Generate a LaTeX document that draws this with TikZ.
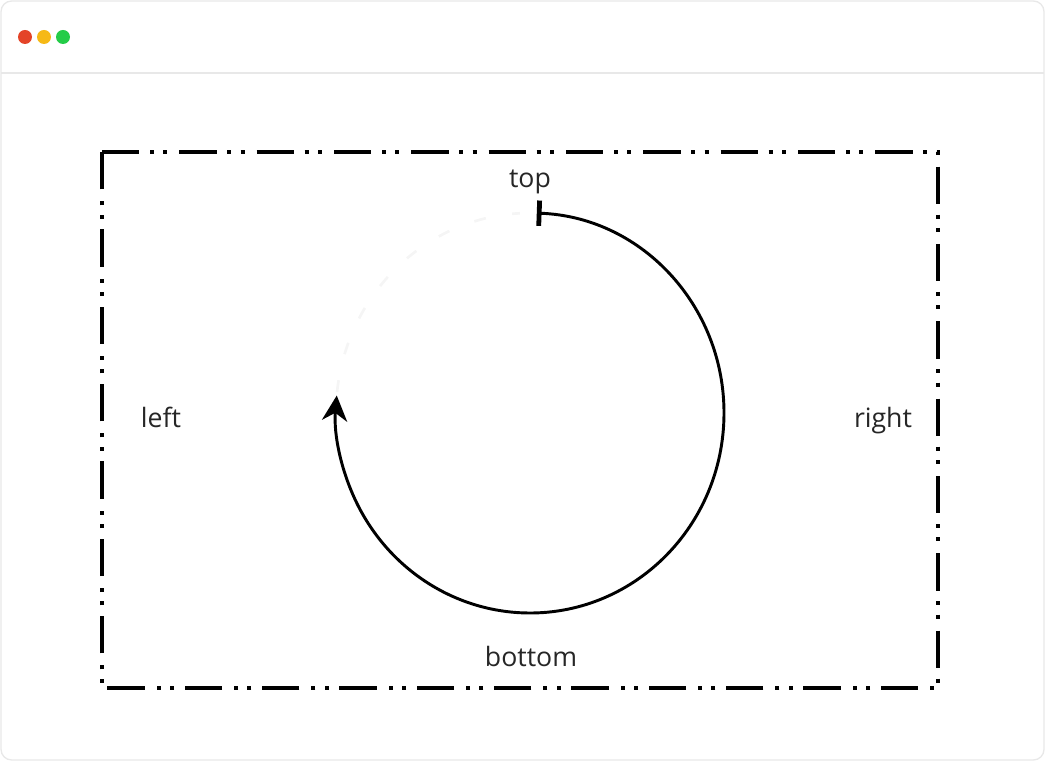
\documentclass[tikz,border=0pt]{standalone}
\usepackage{fontspec}
\setmainfont{Open Sans}
\usetikzlibrary{arrows.meta}
\definecolor{winline}{RGB}{232,232,232}
\definecolor{dotred}{RGB}{228,68,40}
\definecolor{dotyellow}{RGB}{246,185,22}
\definecolor{dotgreen}{RGB}{36,204,72}
\tikzset{
  lbl/.style={anchor=base, font=\fontsize{20}{24}\selectfont, text=black!85},
  dashdotdot/.style={line width=3pt, dash pattern=on 28pt off 8pt on 3pt off 7pt on 3pt off 9pt},
  turn/.style={line width=2.2pt, {Bar[width=19pt,line width=3.6pt]}-{Stealth[length=19pt,width=19pt,inset=6pt]}}
}
\newcommand\winlight[2]{\fill[#2] (#1,724) circle (7);}

\begin{document}
\begin{tikzpicture}[x=0.75pt,y=0.75pt]
\useasboundingbox (0,0) rectangle (1045,761);
\draw[winline, line width=1pt, rounded corners=8pt] (1,1) rectangle (1044,760);
\draw[winline, line width=1pt] (1,688) -- (1044,688);
\winlight{25}{dotred}
\winlight{44}{dotyellow}
\winlight{63}{dotgreen}
\draw[dashdotdot] (102,609) -- (938,609) -- (938,73) -- (102,73) -- cycle;
\node[lbl] (top) at (530,573) {top};
\node[lbl] (left) at (161,334) {left};
\node[lbl] (right) at (883,334) {right};
\node[lbl] (bottom) at (531,95) {bottom};
\coordinate (hub) at (530,348);
\draw[black!4, line width=2pt, dash pattern=on 9pt off 20pt] (hub) ++(174:194 and 200) arc (174:93:194 and 200);
\draw[turn] (hub) ++(88:194 and 200) arc (88:-185:194 and 200);
\end{tikzpicture}
\end{document}
